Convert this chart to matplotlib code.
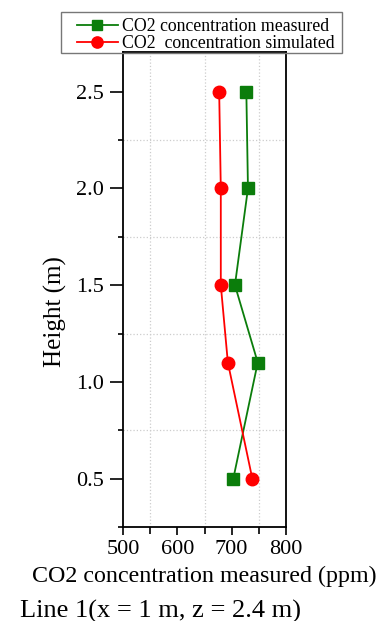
import matplotlib
matplotlib.use("Agg")
import matplotlib.pyplot as plt
from matplotlib.ticker import MultipleLocator
from matplotlib.patches import Rectangle

heights = [0.5, 1.1, 1.5, 2.0, 2.5]
co2_measured = [703, 748, 706, 730, 727]
co2_simulated = [738, 693, 680, 680, 677]
x_ticks = [500, 600, 700, 800]
y_ticks = [0.5, 1.0, 1.5, 2.0, 2.5]

plt.rcParams['font.family'] = ['Liberation Serif', 'DejaVu Serif']

W, H = 386, 621
fig = plt.figure(figsize=(W / 100, H / 100), dpi=100)
ax = fig.add_axes([123 / W, 1 - 527 / H, 163 / W, 475 / H])

ax.plot(co2_measured, heights, color='#0b7d0b', marker='s', markersize=8.5, lw=1.3,
        label='CO2 concentration measured', zorder=3)
ax.plot(co2_simulated, heights, color='#ff0000', marker='o', markersize=9, lw=1.3,
        label='CO2  concentration simulated', zorder=3)

ax.set_xlim(500, 800)
ax.set_ylim(0.25, 2.705)
ax.set_xticks(x_ticks)
ax.set_yticks(y_ticks)
ax.xaxis.set_minor_locator(MultipleLocator(50))
ax.yaxis.set_minor_locator(MultipleLocator(0.25))
ax.grid(which='minor', color='#cccccc', linestyle=':', lw=0.9)
ax.tick_params(which='both', direction='out', width=1.2, labelsize=16)
ax.tick_params(axis='y', which='major', length=9.5, pad=4)
ax.tick_params(axis='y', which='minor', length=3.5)
ax.tick_params(axis='x', which='major', length=5.5, pad=4)
ax.tick_params(axis='x', which='minor', length=5.0)
for s in ax.spines.values():
    s.set_linewidth(1.3)

ax.set_ylabel('Height (m)', fontsize=18)
ax.yaxis.set_label_coords(-(123 - 67) / 163, (527 - 312) / 475)
ax.set_xlabel('CO2 concentration measured (ppm)', fontsize=17.3, labelpad=5)

leg = fig.legend(*ax.get_legend_handles_labels(), loc='upper left',
                 bbox_to_anchor=(77 / W, 1 - 18 / H), fontsize=12.8,
                 frameon=False, borderpad=0, labelspacing=0.0, handlelength=2.3,
                 handletextpad=0.25, borderaxespad=0, markerscale=0.9)
fig.patches.append(Rectangle((61 / W, 1 - 53 / H), 281 / W, 41 / H,
                             transform=fig.transFigure, fill=False,
                             edgecolor='#777777', lw=1.0))

fig.text(20 / W, 1 - 611 / H, 'Line 1(x = 1 m, z = 2.4 m)', fontsize=19,
         ha='left', va='center')

fig.savefig('out.png', dpi=100)
